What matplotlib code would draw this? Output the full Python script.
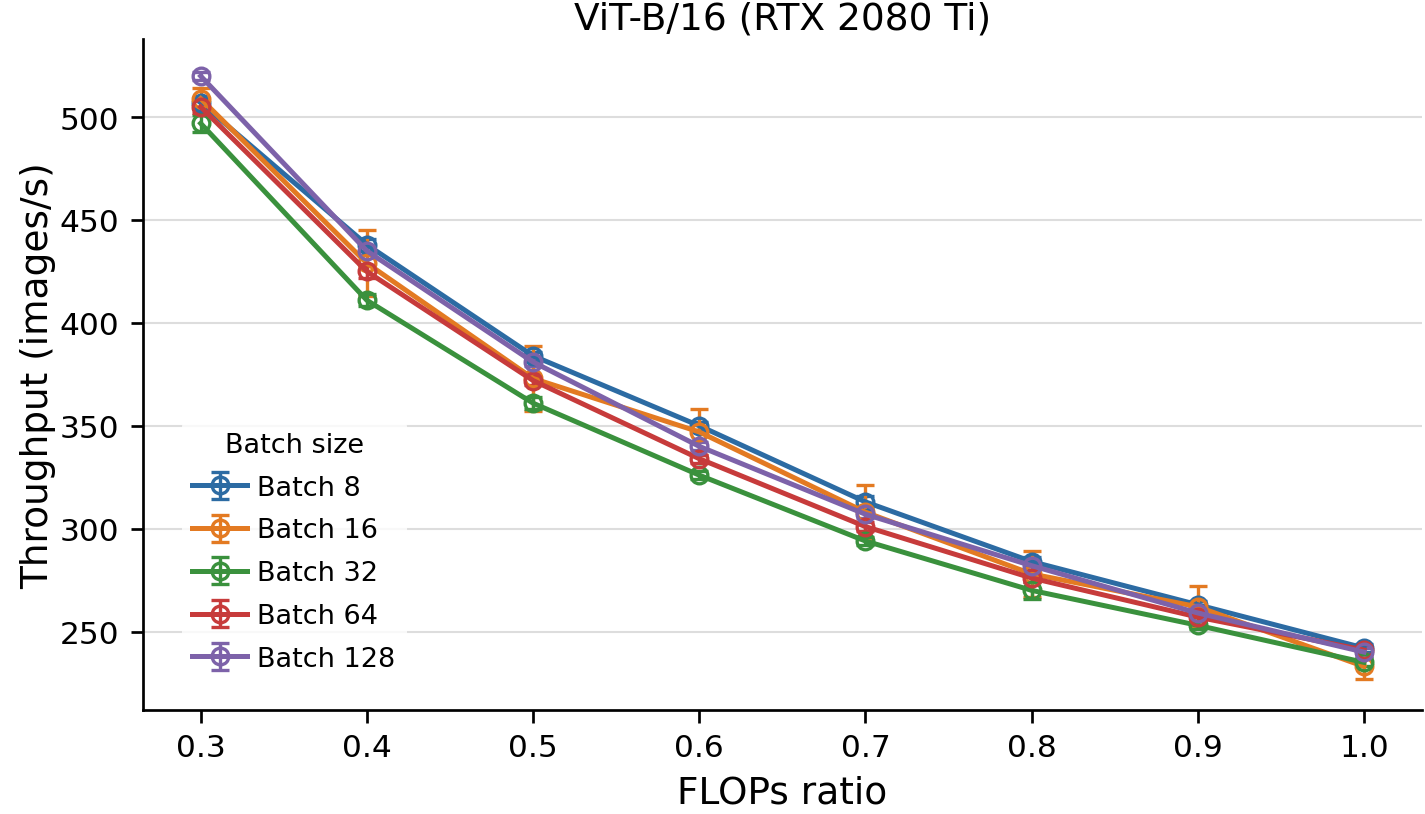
import numpy as np
import matplotlib.pyplot as plt

flops_ratio = [0.3, 0.4, 0.5, 0.6, 0.7, 0.8, 0.9, 1.0]
batch_labels = ["Batch 8", "Batch 16", "Batch 32", "Batch 64", "Batch 128"]

# mean throughput (images/s) per batch size
thr_b8 = [507, 438, 384, 350, 313, 284, 263, 242]
thr_b16 = [509, 429, 373, 347, 308, 278, 262, 233]
thr_b32 = [497, 411, 361, 326, 294, 270, 253, 235]
thr_b64 = [505, 425, 372, 334, 301, 276, 257, 241]
thr_b128 = [520, 435, 381, 340, 307, 282, 259, 240]

# std across runs
err_b8 = [3, 3, 2, 2, 3, 2, 2, 2]
err_b16 = [5, 16, 16, 11, 13, 11, 10, 6]
err_b32 = [4, 3, 3, 2, 2, 4, 2, 2]
err_b64 = [3, 3, 2, 2, 2, 2, 2, 2]
err_b128 = [2, 2, 2, 2, 2, 2, 2, 2]

series = [thr_b8, thr_b16, thr_b32, thr_b64, thr_b128]
errors = [err_b8, err_b16, err_b32, err_b64, err_b128]
colors = ["#2c6ba3", "#e37a22", "#3a913d", "#c73b3b", "#7d62a9"]

fig, ax = plt.subplots(figsize=(9.5, 5.433), dpi=150)
fig.subplots_adjust(left=0.1, right=0.998, top=0.951, bottom=0.128)

for y, e, c, lab in zip(series, errors, colors, batch_labels):
    ax.errorbar(flops_ratio, y, yerr=e, color=c, label=lab, lw=2.4,
                marker='o', markersize=8, markerfacecolor='none',
                markeredgewidth=1.6, capsize=4.5, capthick=1.6, elinewidth=1.6)

ax.set_xlim(0.265, 1.035)
ax.set_ylim(212, 538)
ax.set_xticks(flops_ratio)
ax.set_xticklabels([f"{v:.1f}" for v in flops_ratio])
ax.set_yticks([250, 300, 350, 400, 450, 500])
ax.tick_params(labelsize=15, length=6, width=1.3, pad=5)
ax.grid(axis='y', color='#dddddd', lw=1)
ax.set_axisbelow(True)
for s in ['top', 'right']:
    ax.spines[s].set_visible(False)
for s in ['left', 'bottom']:
    ax.spines[s].set_linewidth(1.3)

ax.set_xlabel("FLOPs ratio", fontsize=18, labelpad=6)
ax.set_ylabel("Throughput (images/s)", fontsize=18, labelpad=2)
ax.set_title("ViT-B/16 (RTX 2080 Ti)", fontsize=18, pad=5)

leg = ax.legend(title="Batch size", fontsize=13, title_fontsize=13,
                loc='lower left', bbox_to_anchor=(0.02, 0.02),
                labelspacing=0.62, handletextpad=0.4,
                frameon=True, framealpha=0.8, edgecolor='none')

fig.savefig("out.png", dpi=150)
